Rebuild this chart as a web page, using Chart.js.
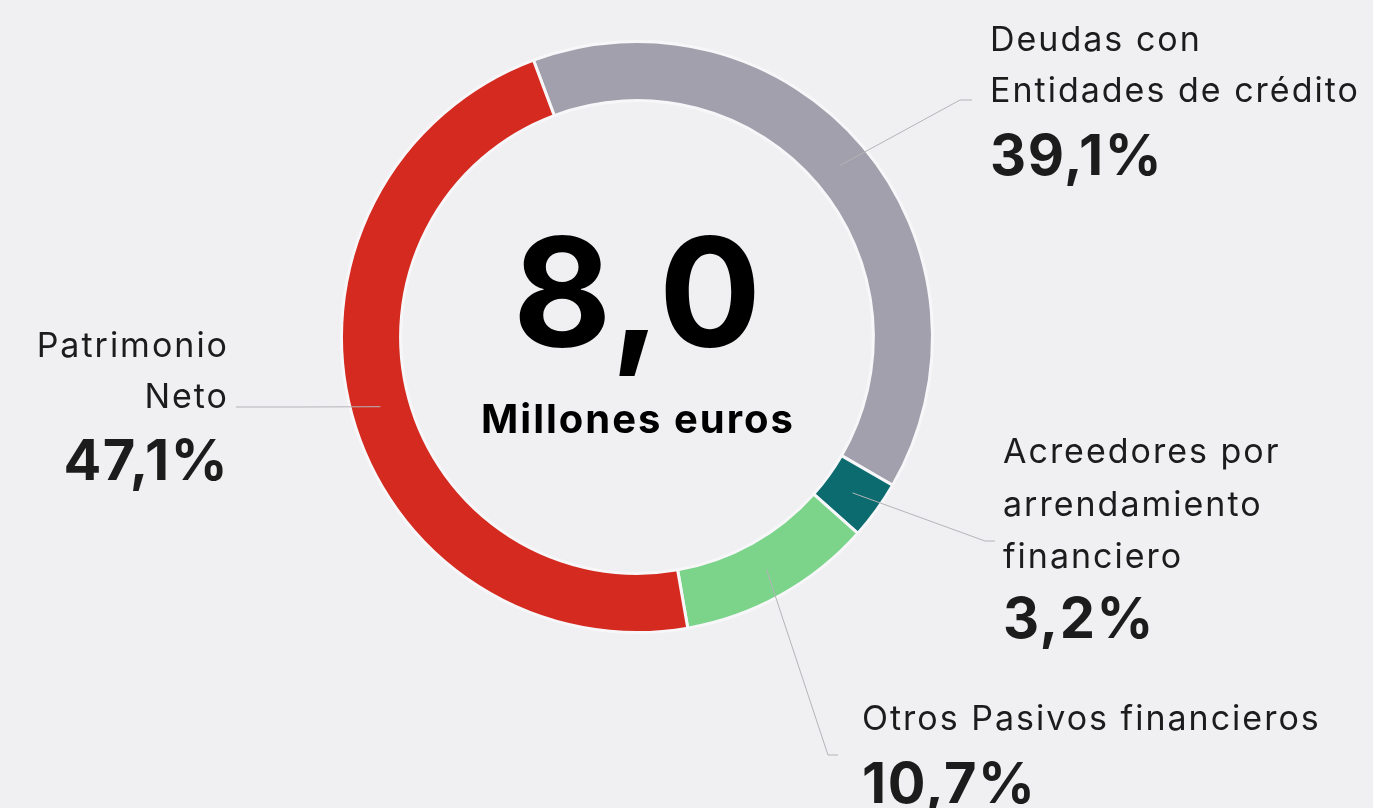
<!DOCTYPE html>
<html>
<head>
<meta charset="utf-8">
<script src="https://cdn.jsdelivr.net/npm/chart.js@4.4.1/dist/chart.umd.min.js"></script>
<style>
  html, body { margin: 0; padding: 0; background: #f0f0f3; }
  #wrap { position: relative; width: 1373px; height: 808px; }
</style>
</head>
<body>
<div id="wrap"><canvas id="pasivoChart" width="1373" height="808"></canvas></div>
<script>
// Datos del gráfico
const categories = [
    ['Deudas con', 'Entidades de crédito'],
    ['Acreedores por', 'arrendamiento', 'financiero'],
    ['Otros Pasivos financieros'],
    ['Patrimonio', 'Neto']
];
const shares = [39.1, 3.2, 10.7, 47.1];
const colors = ['#a1a0ac', '#0b6b6e', '#7bd48a', '#d52a20'];
const totalValue = '8,0';
const totalUnit = 'Millones euros';

// Posición de las etiquetas (elbow del conector y texto)
const labelLayout = [
    { elbow: [960, 100], end: [972, 100], x: 990, align: 'left', baselines: [51, 102], pctBaseline: 175 },
    { elbow: [985, 541], end: [995, 541], x: 1003, align: 'left', baselines: [463, 516, 568], pctBaseline: 638 },
    { elbow: [828, 755], end: [838, 755], x: 862, align: 'left', baselines: [730], pctBaseline: 803 },
    { elbow: [300, 407], end: [236, 407], x: 229, align: 'right', baselines: [357, 408], pctBaseline: 480 }
];

const fmtPct = v => v.toFixed(1).replace('.', ',') + '%';

const labelsPlugin = {
    id: 'labelsPlugin',
    afterDraw(chart) {
        const ctx = chart.ctx;
        const meta = chart.getDatasetMeta(0);
        const arc0 = meta.data[0];
        const cx = arc0.x, cy = arc0.y;

        ctx.save();
        // Centro
        ctx.fillStyle = '#000';
        ctx.textAlign = 'center';
        ctx.textBaseline = 'alphabetic';
        ctx.letterSpacing = '2px';
        ctx.font = 'bold 152px Inter';
        ctx.fillText(totalValue, cx + 1, cy + 10);
        ctx.font = 'bold 40px Inter';
        ctx.fillText(totalUnit, cx + 1, cy + 96);

        // Conectores y etiquetas
        meta.data.forEach((arc, i) => {
            const p = arc.getCenterPoint();
            const lay = labelLayout[i];
            ctx.strokeStyle = '#b4b4b8';
            ctx.lineWidth = 1;
            ctx.beginPath();
            ctx.moveTo(p.x, p.y);
            ctx.lineTo(lay.elbow[0], lay.elbow[1]);
            ctx.lineTo(lay.end[0], lay.end[1]);
            ctx.stroke();

            ctx.fillStyle = '#1c1c1c';
            ctx.textAlign = lay.align;
            ctx.letterSpacing = '2px';
            ctx.font = '34px Inter';
            categories[i].forEach((line, j) => {
                ctx.fillText(line, lay.x, lay.baselines[j]);
            });
            ctx.letterSpacing = '1.5px';
            ctx.font = 'bold 56px Inter';
            ctx.fillText(fmtPct(shares[i]), lay.x, lay.pctBaseline);
        });
        ctx.restore();
    }
};

const ctx = document.getElementById('pasivoChart').getContext('2d');
new Chart(ctx, {
    type: 'doughnut',
    data: {
        labels: categories.map(c => c.join(' ')),
        datasets: [{
            data: shares,
            backgroundColor: colors,
            borderColor: '#f7f7f9',
            borderWidth: 3,
            hoverOffset: 0
        }]
    },
    options: {
        responsive: false,
        animation: false,
        rotation: -20.5,
        cutout: '80%',
        layout: {
            padding: { left: 340, right: 439, top: 40, bottom: 174 }
        },
        plugins: {
            legend: { display: false },
            tooltip: { enabled: false }
        }
    },
    plugins: [labelsPlugin]
});
</script>
</body>
</html>
